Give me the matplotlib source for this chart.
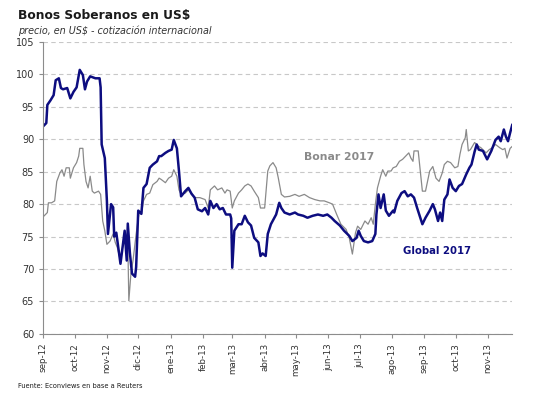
import numpy as np
import pandas as pd
import matplotlib
matplotlib.use("Agg")
import matplotlib.pyplot as plt
import matplotlib.dates as mdates
from matplotlib.ticker import FuncFormatter, MultipleLocator

START = pd.Timestamp("2012-09-01")
MESES = ["ene", "feb", "mar", "abr", "may", "jun", "jul", "ago", "sep", "oct", "nov", "dic"]

# days since 1-sep-2012, price
global_days = [0, 3, 4, 7, 10, 12, 15, 17, 19, 23, 26, 29, 32, 35, 38, 40, 42, 45, 50, 54,
               55, 56, 59, 61, 62, 65, 67, 68, 70, 74, 76, 78, 80, 81, 83, 85, 88, 89, 91, 94,
               96, 99, 102, 105, 109, 111, 113, 117, 120, 123, 125, 128, 130, 132, 136, 139, 142, 145, 148, 152,
               155, 158, 160, 163, 166, 169, 172, 175, 179, 180, 181, 183, 187, 190, 193, 196, 199, 202, 206, 208,
               210, 213, 215, 218, 223, 226, 228, 231, 236, 241, 244, 249, 253, 258, 263, 268, 272, 276, 279, 284,
               288, 293, 296, 300, 302, 304, 307, 311, 315, 318, 319, 321, 323, 326, 328, 331, 335, 336, 339, 343,
               346, 349, 352, 355, 358, 362, 363, 366, 370, 373, 375, 378, 380, 382, 384, 387, 389, 392, 395, 398,
               401, 405, 408, 410, 413, 415, 417, 421, 425, 429, 433, 436, 438, 441, 443, 445, 447, 449]
global_vals = [92.0, 92.5, 95.3, 96.0, 96.8, 99.1, 99.4, 97.9, 97.7, 97.9, 96.3, 97.3, 98.0, 100.7, 99.9, 97.7, 98.9, 99.7, 99.4, 99.4,
               98.0, 89.2, 87.1, 80.5, 75.4, 80.0, 79.5, 75.0, 75.6, 70.8, 73.3, 75.9, 71.3, 77.0, 72.5, 69.3, 68.8, 70.3, 79.0, 78.5,
               82.5, 83.1, 85.6, 86.1, 86.6, 87.4, 87.4, 87.9, 88.2, 88.4, 89.9, 88.6, 85.1, 81.2, 82.0, 82.5, 81.6, 81.0, 79.2, 78.9,
               79.4, 78.4, 80.5, 79.4, 80.0, 79.2, 79.4, 78.4, 78.4, 77.8, 70.2, 75.9, 76.9, 76.9, 78.2, 77.2, 76.7, 74.8, 74.1, 72.0,
               72.4, 72.0, 75.4, 76.9, 78.4, 80.2, 79.4, 78.7, 78.4, 78.7, 78.4, 78.2, 77.9, 78.2, 78.4, 78.2, 78.4, 77.9, 77.4, 76.7,
               75.9, 75.1, 74.3, 74.8, 75.9, 75.1, 74.3, 74.1, 74.3, 75.4, 78.4, 81.5, 79.4, 81.5, 79.0, 78.2, 79.0, 78.7, 80.5, 81.7,
               82.0, 81.2, 81.5, 81.0, 79.4, 77.4, 76.9, 77.9, 79.0, 80.0, 79.2, 77.4, 78.7, 77.4, 80.7, 81.5, 83.8, 82.5, 82.0, 82.8,
               83.1, 84.6, 85.6, 86.1, 88.1, 89.2, 88.4, 88.2, 86.9, 88.2, 89.9, 90.4, 89.7, 91.5, 90.4, 89.7, 91.0, 92.2]

bonar_days = [1, 4, 5, 8, 11, 13, 16, 18, 20, 22, 25, 26, 29, 32, 34, 35, 38, 39, 41, 43,
              45, 47, 49, 53, 55, 57, 59, 61, 64, 67, 69, 71, 74, 76, 78, 81, 82, 84, 86, 89,
              92, 94, 96, 99, 102, 105, 109, 111, 113, 117, 120, 123, 125, 128, 130, 132, 136, 139, 142, 145,
              150, 155, 158, 160, 164, 167, 171, 174, 176, 179, 181, 183, 187, 190, 193, 196, 199, 202, 206, 208,
              212, 215, 217, 220, 223, 225, 228, 231, 236, 241, 245, 250, 255, 260, 265, 269, 274, 277, 281, 285,
              290, 293, 296, 299, 301, 304, 308, 311, 314, 316, 318, 320, 323, 325, 328, 330, 333, 335, 338, 341,
              344, 347, 350, 352, 354, 355, 359, 362, 363, 366, 370, 373, 376, 379, 382, 384, 387, 390, 394, 397,
              399, 401, 404, 405, 407, 409, 413, 416, 419, 424, 427, 430, 433, 437, 440, 442, 444, 447, 449]
bonar_vals = [78.2, 78.7, 80.2, 80.2, 80.5, 83.5, 84.8, 85.3, 84.3, 85.6, 85.6, 84.0, 85.6, 86.4, 87.4, 88.6, 88.6, 86.1, 83.5, 82.5,
              84.3, 82.0, 81.7, 82.0, 81.5, 77.4, 75.9, 73.8, 74.3, 75.4, 74.1, 73.3, 71.3, 73.3, 75.4, 74.3, 65.1, 69.3, 71.3, 75.4,
              78.9, 78.4, 80.5, 81.5, 81.7, 83.0, 83.5, 84.0, 83.8, 83.3, 84.0, 84.3, 85.3, 84.3, 82.2, 81.5, 81.7, 82.2, 81.7, 81.0,
              81.0, 80.7, 79.4, 82.2, 82.8, 82.2, 82.5, 81.7, 82.2, 82.0, 79.4, 80.5, 81.7, 82.2, 82.8, 83.1, 82.8, 82.0, 81.0, 79.4,
              79.4, 85.1, 85.9, 86.4, 85.6, 84.1, 81.5, 81.1, 81.2, 81.5, 81.2, 81.5, 81.0, 80.7, 80.5, 80.5, 80.2, 80.0, 78.4, 76.9,
              76.1, 74.8, 72.3, 75.6, 76.6, 76.1, 77.4, 76.9, 77.9, 76.9, 80.0, 82.5, 84.3, 85.3, 84.3, 85.1, 85.1, 85.6, 85.8, 86.6,
              86.9, 87.4, 87.9, 87.1, 86.6, 88.2, 88.2, 83.5, 82.0, 82.0, 85.1, 85.8, 84.0, 83.5, 84.8, 86.1, 86.6, 86.4, 85.6, 85.8,
              87.7, 89.2, 90.2, 91.5, 88.2, 88.4, 89.5, 89.0, 88.7, 87.9, 88.4, 88.7, 89.2, 88.7, 88.4, 88.6, 87.1, 88.6, 88.9]

global_dates = START + pd.to_timedelta(global_days, unit="D")
bonar_dates = START + pd.to_timedelta(bonar_days, unit="D")

NAVY = "#0d0d80"
GRAY = "#8a8a8a"

fig = plt.figure(figsize=(5.33, 3.96), dpi=100)
ax = fig.add_axes([0.081, 0.157, 0.880, 0.737])

ax.plot(bonar_dates, bonar_vals, color=GRAY, lw=0.9)
ax.plot(global_dates, global_vals, color=NAVY, lw=1.8)

ax.set_ylim(60, 105)
ax.yaxis.set_major_locator(MultipleLocator(5))
ax.set_xlim(START, START + pd.Timedelta(days=449))
ax.xaxis.set_major_locator(mdates.MonthLocator())
ax.xaxis.set_major_formatter(FuncFormatter(
    lambda v, pos: "%s-%s" % (MESES[mdates.num2date(v).month - 1], mdates.num2date(v).strftime("%y"))))

ax.grid(axis="y", color="#c8c8c8", ls=(0, (4, 3)), lw=0.8)
ax.set_axisbelow(True)
for s in ["top", "right"]:
    ax.spines[s].set_visible(False)
for s in ["left", "bottom"]:
    ax.spines[s].set_color("#8c8c8c")
    ax.spines[s].set_linewidth(0.8)
ax.tick_params(axis="both", colors="#8c8c8c", labelcolor="#333333", length=3, width=0.8)
ax.tick_params(axis="y", labelsize=7)
ax.tick_params(axis="x", labelsize=6.3, rotation=90)

ax.text(START + pd.Timedelta(days=250), 87.2, "Bonar 2017", color="#8a8a8a",
        fontsize=7.8, fontweight="bold", ha="left", va="center")
ax.text(START + pd.Timedelta(days=344), 72.8, "Global 2017", color=NAVY,
        fontsize=7.3, fontweight="bold", ha="left", va="center")

fig.text(18 / 533, 1 - 15 / 396, "Bonos Soberanos en US$", fontsize=8.8,
         fontweight="bold", ha="left", va="center", color="#1a1a1a")
fig.text(18 / 533, 1 - 31 / 396, "precio, en US$ - cotización internacional", fontsize=6.9,
         style="italic", ha="left", va="center", color="#333333")
fig.text(18 / 533, 1 - 386 / 396, "Fuente: Econviews en base a Reuters", fontsize=4.8,
         ha="left", va="center", color="#1a1a1a")

fig.savefig("out.png", dpi=100)
